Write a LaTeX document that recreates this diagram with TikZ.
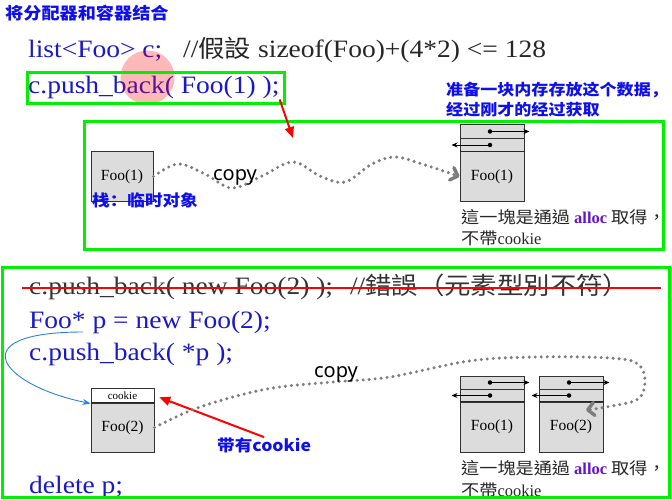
\documentclass[tikz,border=0pt]{standalone}
\usepackage{fontspec}
\setmainfont{Liberation Serif}
\newfontfamily\codefont{Liberation Serif}[FakeStretch=1.1]
\newfontfamily\cjkcode{Noto Sans CJK TC}[Scale=0.96,FakeStretch=1.1]
\newfontfamily\cjknote{Noto Sans CJK SC}[FakeStretch=1.1]
\newfontfamily\cjkplain{Noto Sans CJK TC}[FakeStretch=1.1]
\newfontfamily\copyfont{Noto Sans}
\usepackage{tikz}
\usetikzlibrary{arrows.meta}
\definecolor{codeblue}{RGB}{25,25,200}
\definecolor{noteblue}{RGB}{15,15,235}
\definecolor{framegreen}{RGB}{0,240,0}
\definecolor{cellgray}{RGB}{220,220,220}
\definecolor{dotgray}{RGB}{125,125,125}
\definecolor{allocpurple}{RGB}{100,20,200}
\definecolor{linkblue}{RGB}{40,130,220}
\tikzset{
  codeline/.style={anchor=base west, inner sep=0pt, font=\codefont\fontsize{25}{30}\selectfont},
  notetext/.style={anchor=base west, inner sep=0pt, text=noteblue, font=\cjknote\bfseries\fontsize{15.5}{18}\selectfont},
  allocnote/.style={anchor=base west, inner sep=0pt, text=black!85, font=\cjkplain\fontsize{16.5}{20}\selectfont},
  greenframe/.style={draw=framegreen, line width=3pt},
  memcell/.style={draw=black!80, fill=cellgray, line width=1pt, minimum width=64pt, inner sep=0pt, font=\fontsize{15.5}{18}\selectfont},
  bodyline/.style={draw=black!85, line width=1.8pt},
  linkdot/.style={circle, fill=black, inner sep=0pt, minimum size=4.5pt},
  linkptr/.style={draw=black, line width=0.9pt, -{Stealth[length=6pt,width=5pt]}},
  copyline/.style={draw=dotgray, line width=3.4pt, line cap=round, dash pattern=on 0pt off 6pt, -{Straight Barb[round,length=6.5pt,width=13pt]}},
  copylabel/.style={anchor=base, inner sep=0pt, font=\copyfont\fontsize{20}{24}\selectfont},
  redarrow/.style={draw=red, line width=2pt, -{Triangle[length=11pt,width=9pt]}},
  linkarrow/.style={draw=linkblue, line width=0.9pt, -{Stealth[length=8pt,width=6pt]}}
}
\begin{document}
\begin{tikzpicture}[x=1pt, y=-1pt]
\useasboundingbox (0,0) rectangle (672,500);
% heading
\node[notetext, font=\cjknote\bfseries\fontsize{16.5}{20}\selectfont] (title) at (5,19.5) {将分配器和容器结合};

% part one: a temporary Foo(1) copied into the list
\node[codeline, text=codeblue] (listdecl) at (28,58) {list<Foo> c;};
\node[codeline, text=black!85] (sizehint) at (183,58) {//{\cjkcode 假設} sizeof(Foo)+(4*2) <= 128};
\node[codeline, text=codeblue] (pushone) at (28,94) {c.push\_back( Foo(1) );};
\fill[red, opacity=0.28] (147.5,77.5) circle[radius=27pt];
\draw[greenframe] (27,73) rectangle (284,104);
\draw[greenframe] (84,122) rectangle (663,249);
\coordinate (pushtip) at (293,138);
\draw[redarrow] (pushone.south east) -- (pushtip);

\node[notetext] (blocknote) at (446,96) {准备一块内存存放这个数据，};
\node[notetext] (blocknote2) at (446,116) {经过刚才的经过获取};

\node[memcell, minimum width=62pt, minimum height=49pt] (stackone) at (122,176.5) {Foo(1)};
\node[notetext, font=\cjknote\bfseries\fontsize{16}{18}\selectfont] (stacknote) at (92,206) {栈：临时对象};

\node[memcell, minimum height=13.5pt] (onehead) at (492,131.5) {};
\node[memcell, minimum height=13.5pt] (onelink) at (492,145) {};
\node[memcell, minimum height=49pt] (onebody) at (492,176.5) {Foo(1)};
\draw[bodyline] (onebody.north west) -- (onebody.north east);
\node[linkdot] (onenext) at (490,131.5) {};
\node[linkdot] (oneprev) at (490,145) {};
\draw[linkptr] (onenext) -- ([xshift=5pt]onehead.east);
\draw[linkptr] (oneprev) -- ([xshift=-8pt]onelink.west);

\draw[copyline] plot[smooth, tension=0.6] coordinates {(stackone.east) (178,164) (205,174) (232,188) (262,176) (293,162) (320,176) (345,182) (372,164) (395,157) (422,164) (onebody.west)};
\node[copylabel] (copyone) at (235,180) {copy};

\node[allocnote] (onealloc) at (461,223) {這一塊是通過 {\rmfamily\bfseries\color{allocpurple}alloc} 取得，};
\node[allocnote] (onealloc2) at (461,244) {不帶{\rmfamily cookie}};

% part two: Foo(2) made with new, then copied
\node[codeline, text=black!80] (wrongpush) at (29,294) {c.push\_back( new Foo(2) ); \hspace{10pt}//{\cjkcode 錯誤（元素型別不符）}};
\draw[draw=red, line width=2.5pt] (22,288) -- (661,288);
\node[codeline, text=codeblue] (newfoo) at (29,328) {Foo* p = new Foo(2);};
\node[codeline, text=codeblue] (pushptr) at (29,360) {c.push\_back( *p );};
\node[codeline, text=codeblue] (deleteptr) at (29,493) {delete p;};

\node[memcell, minimum width=63pt, minimum height=15pt, fill=white, font=\fontsize{11}{13}\selectfont] (ckhead) at (122.5,395.5) {cookie};
\node[memcell, minimum width=63pt, minimum height=49pt] (ckbody) at (122.5,427.5) {Foo(2)};
\draw[bodyline] (ckbody.north west) -- (ckbody.north east);
\coordinate (pstart) at (83,332);
\draw[linkarrow] (pstart) .. controls (-40,332) and (0,385) .. (ckhead.south west);

\node[notetext, font=\cjknote\bfseries\fontsize{16}{18}\selectfont] (withcookie) at (217,451) {带有cookie};
\draw[redarrow, shorten >=5pt] (withcookie.north) -- (ckhead.east);

\node[memcell, minimum height=13pt] (ahead) at (492,382.5) {};
\node[memcell, minimum height=13pt] (alink) at (492,395.5) {};
\node[memcell, minimum height=50pt] (abody) at (492,427) {Foo(1)};
\draw[bodyline] (abody.north west) -- (abody.north east);
\node[memcell, minimum height=13pt] (bhead) at (571,382.5) {};
\node[memcell, minimum height=13pt] (blink) at (571,395.5) {};
\node[memcell, minimum height=50pt] (bbody) at (571,427) {Foo(2)};
\draw[bodyline] (bbody.north west) -- (bbody.north east);
\node[linkdot] (anext) at (490,382.5) {};
\node[linkdot] (aprev) at (490,395.5) {};
\node[linkdot] (bnext) at (569,382.5) {};
\node[linkdot] (bprev) at (569,395.5) {};
\draw[linkptr] (anext) -- ([xshift=5pt]ahead.east);
\draw[linkptr] (aprev) -- ([xshift=-8pt]alink.west);
\draw[linkptr] (bnext) -- ([xshift=6pt]bhead.east);
\draw[linkptr] (bprev) -- ([xshift=-7pt]blink.west);

\coordinate (copytip) at (586,410);
\draw[copyline] plot[smooth, tension=0.6] coordinates {(ckbody.east) (200,407) (267,389) (333,382) (390,377) (469,361) (536,357) (610,358) (638,364) (645,382) (638,399) (612,406) (copytip)};
\node[copylabel] (copytwo) at (336,377) {copy};

\node[allocnote] (twoalloc) at (461,474) {這一塊是通過 {\rmfamily\bfseries\color{allocpurple}alloc} 取得，};
\node[allocnote] (twoalloc2) at (461,496) {不帶{\rmfamily cookie}};

\draw[greenframe] (2,267) rectangle (669,497);
\end{tikzpicture}
\end{document}
